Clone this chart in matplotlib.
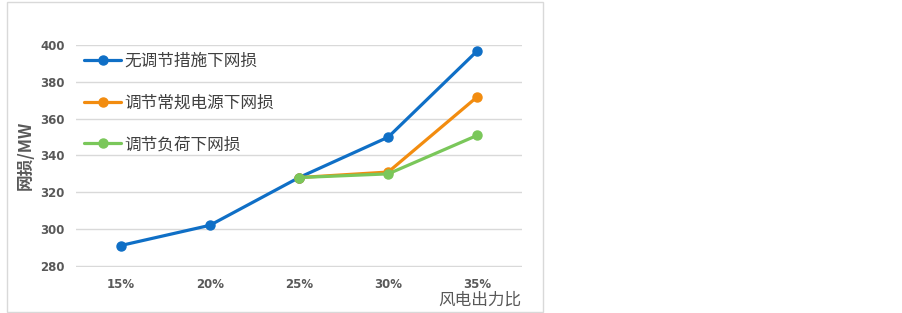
import matplotlib.pyplot as plt
from matplotlib.patches import Rectangle

plt.rcParams['font.family'] = ['Noto Sans CJK SC', 'DejaVu Sans']

categories = ["15%", "20%", "25%", "30%", "35%"]
no_ctrl = [291, 302, 328, 350, 397]
conv_ctrl = [None, None, 328, 331, 372]
load_ctrl = [None, None, 328, 330, 351]
labels = ["无调节措施下网损", "调节常规电源下网损", "调节负荷下网损"]
colors = ["#0F6FC6", "#F28C0F", "#7AC75A"]

fig = plt.figure(figsize=(9.03, 3.13), dpi=100)
ax = fig.add_axes([76/903, 1 - 266.5/313, (522-76)/903, (266.5-44.5)/313])

# outer chart border
fig.patches.append(Rectangle((7/903, 1/313), 536/903, 310/313, transform=fig.transFigure,
                             fill=False, edgecolor="#D9D9D9", linewidth=1))

series = [no_ctrl, conv_ctrl, load_ctrl]
for vals, lab, c in zip(series, labels, colors):
  xs = [i for i, v in enumerate(vals) if v is not None]
  ys = [v for v in vals if v is not None]
  ax.plot(xs, ys, color=c, lw=2.3, marker="o", ms=6.5, label=lab, solid_capstyle="round")

ax.set_xlim(-0.5, 4.5)
ax.set_ylim(279.6, 400.4)
ax.set_yticks(range(280, 401, 20))
ax.set_xticks(range(len(categories)))
ax.set_xticklabels(categories)
ax.grid(axis="y", color="#D9D9D9", lw=1)
ax.set_axisbelow(True)
for s in ax.spines.values():
  s.set_visible(False)
ax.tick_params(length=0, labelsize=8.5, labelcolor="#595959", pad=8)
for t in ax.get_xticklabels() + ax.get_yticklabels():
  t.set_fontweight("bold")
  t.set_family("DejaVu Sans")
ax.tick_params(axis="x", pad=8.5)

ax.set_ylabel("网损/MW", fontsize=12, color="#595959", fontweight="bold", labelpad=4)
fig.text(521/903, 1 - 300/313, "风电出力比", ha="right", va="center", fontsize=12, color="#595959")

leg = ax.legend(loc="upper left", bbox_to_anchor=(0.0, 1.0), frameon=False, fontsize=12,
                handlelength=2.2, handletextpad=0.2, labelspacing=1.48, borderaxespad=0.1)
for t in leg.get_texts():
  t.set_color("#404040")

plt.savefig("out.png", dpi=100)
